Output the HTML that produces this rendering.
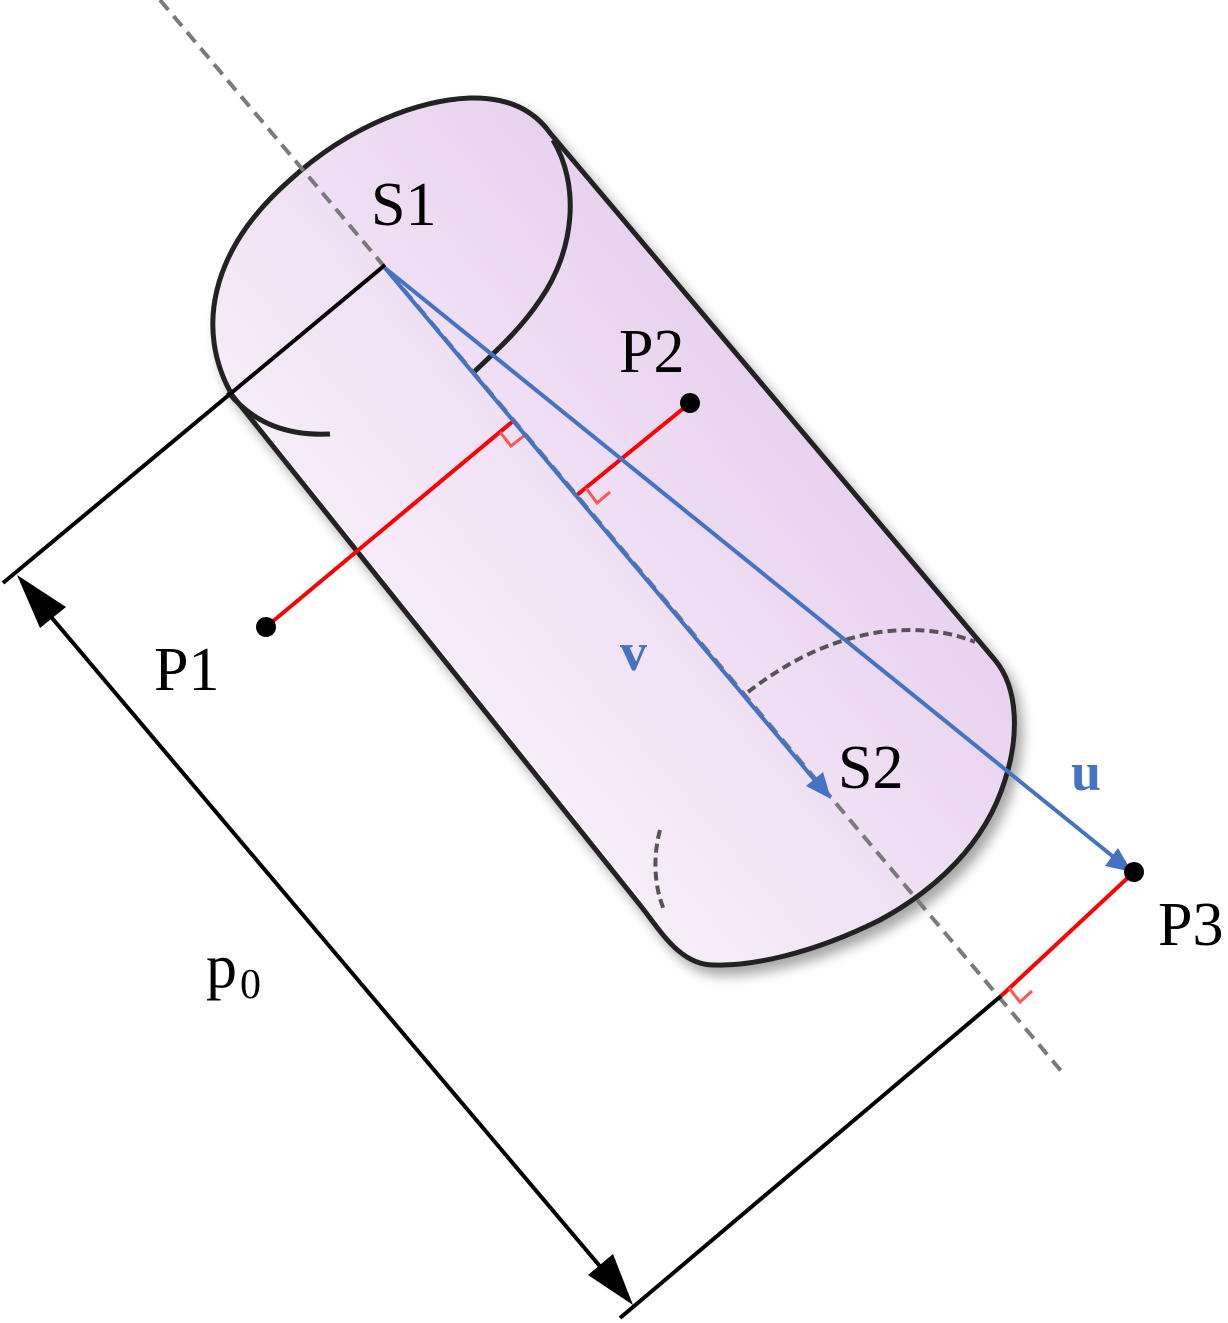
<!DOCTYPE html>
<html><head><meta charset="utf-8"><style>
html,body{margin:0;padding:0;background:#fff;}
svg{display:block;}
</style></head><body>
<svg width="1228" height="1323" viewBox="0 0 1228 1323" xmlns="http://www.w3.org/2000/svg" font-family="'Liberation Serif','Times New Roman',Times,'Noto Serif CJK SC',serif">
<defs>
<linearGradient id="g" x1="230" y1="700" x2="700" y2="300" gradientUnits="userSpaceOnUse">
<stop offset="0" stop-color="#fcfafd"/>
<stop offset="0.45" stop-color="#f4e7f7"/>
<stop offset="1" stop-color="#e8d2ef"/>
</linearGradient>
<filter id="sh" x="-10%" y="-10%" width="130%" height="130%">
<feGaussianBlur in="SourceAlpha" stdDeviation="6"/>
<feOffset dx="6" dy="8"/>
<feComponentTransfer><feFuncA type="linear" slope="0.35"/></feComponentTransfer>
<feMerge><feMergeNode/><feMergeNode in="SourceGraphic"/></feMerge>
</filter>
</defs>
<path filter="url(#sh)" d="M232,395 C195,330 210,250 290,180 C350,125 420,100 470,98 C510,97 535,112 550,133 L995,660 C1020,690 1018,740 1005,780 C985,845 935,890 880,920 C810,955 750,966 715,965 C680,966 660,930 640,905 L232,395 Z" fill="url(#g)" stroke="#222" stroke-width="5" stroke-linejoin="round"/>
<path d="M553,140 C580,185 575,250 540,300 C520,330 495,352 474,372" fill="none" stroke="#222" stroke-width="5"/>
<path d="M228,392 C255,425 290,436 330,434" fill="none" stroke="#222" stroke-width="5"/>
<path d="M748,692 C790,660 830,640 880,632 C920,627 950,632 975,642" fill="none" stroke="#555" stroke-width="4" stroke-dasharray="9,5"/>
<path d="M660,830 C652,860 655,890 665,912" fill="none" stroke="#555" stroke-width="4" stroke-dasharray="9,5"/>
<line x1="160" y1="0" x2="1062" y2="1072" stroke="#7a7a7a" stroke-width="4" stroke-dasharray="13,8"/>
<line x1="385" y1="265" x2="3" y2="583" stroke="#000" stroke-width="4"/>
<line x1="1001" y1="996" x2="620" y2="1318" stroke="#000" stroke-width="4"/>
<line x1="30" y1="592" x2="620" y2="1290" stroke="#000" stroke-width="4"/>
<polygon points="17,575 66,607 40,628" fill="#000"/>
<polygon points="633,1305 588,1275 613,1254" fill="#000"/>
<line x1="266" y1="627" x2="512" y2="422" stroke="#f00" stroke-width="4"/>
<line x1="690" y1="403" x2="577" y2="495" stroke="#f00" stroke-width="4"/>
<line x1="1134" y1="872" x2="1001" y2="996" stroke="#f00" stroke-width="4"/>
<polyline points="500,432 511,446 525,435" fill="none" stroke="#f55" stroke-width="3"/>
<polyline points="586,488 597,503 610,492" fill="none" stroke="#f55" stroke-width="3"/>
<polyline points="1009,988 1020,1002 1032,991" fill="none" stroke="#f55" stroke-width="3"/>
<line x1="385" y1="268" x2="818" y2="784" stroke="#4472c4" stroke-width="4"/>
<polygon points="831,799 806,786 823,772" fill="#4472c4"/>
<line x1="385" y1="268" x2="1116" y2="859" stroke="#4472c4" stroke-width="4"/>
<polygon points="1132,872 1105,866 1118,848" fill="#4472c4"/>
<circle cx="266" cy="627" r="10" fill="#000"/>
<circle cx="690" cy="403" r="10" fill="#000"/>
<circle cx="1134" cy="872" r="10" fill="#000"/>
<text x="371" y="225" font-size="62">S1</text>
<text x="619" y="372" font-size="62">P2</text>
<text x="154" y="690" font-size="62">P1</text>
<text x="838" y="788" font-size="62">S2</text>
<text x="1158" y="945" font-size="62">P3</text>
<text x="620" y="670" font-size="54" font-weight="bold" fill="#4472c4">v</text>
<text x="1071" y="790" font-size="54" font-weight="bold" fill="#4472c4">u</text>
<text x="206" y="987" font-size="62">p</text>
<text x="240" y="998" font-size="42">0</text>
</svg>
</body></html>
